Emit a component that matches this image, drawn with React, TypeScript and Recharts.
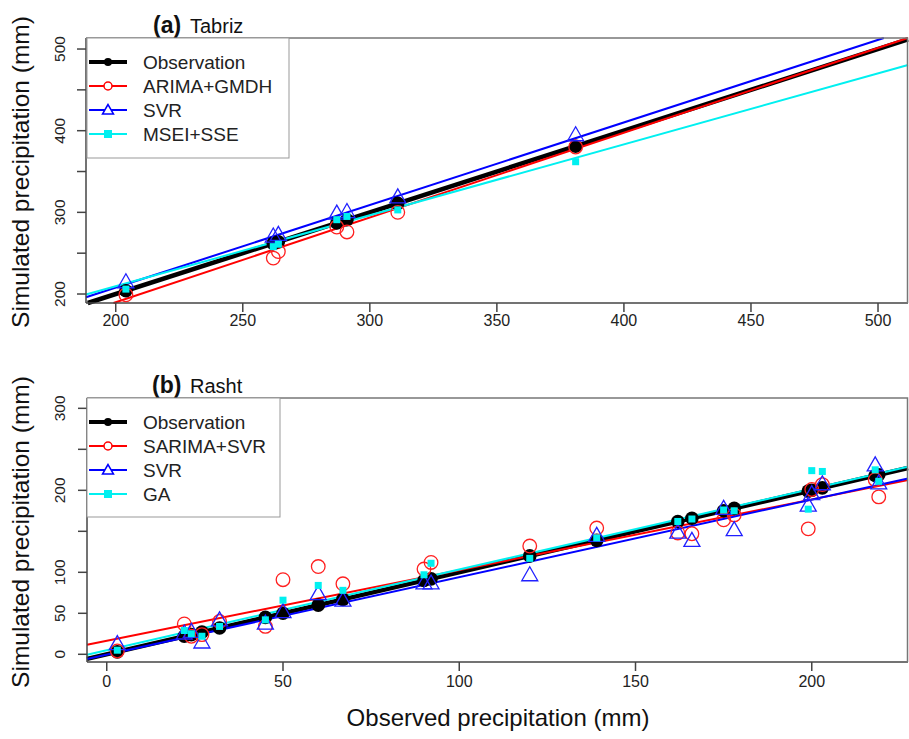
import React from "react";
import { ComposedChart, Scatter, XAxis, YAxis, ReferenceLine } from "recharts";

// ---- panel (a) Tabriz ----
const obsA = [204, 262, 264, 287, 291, 311, 381];
const arimaGmdhA = [199, 244, 252, 282, 276, 300, 380];
const svrA = [215, 271, 273, 299, 301, 319, 395];
const mseiSseA = [206, 258, 261, 291, 295, 303, 362];
// fitted lines: Observation, ARIMA+GMDH, SVR, MSEI+SSE
const slopeA = [1, 1.038, 1.011, 0.869];
const interceptA = [0, -17.7, 5.7, 35.7];
const xTicksA = [200, 250, 300, 350, 400, 450, 500];
const yTicksA = [200, 250, 300, 350, 400, 450, 500];
const yLabelsA = [200, 300, 400, 500];

// ---- panel (b) Rasht ----
const obsB = [3, 22, 24, 27, 32, 45, 50, 60, 67, 90, 92, 120, 139, 162, 166, 175, 178, 199, 200, 203, 218, 219];
const sarimaSvrB = [4, 37, 22, 24, 40, 34, 91, 107, 86, 104, 112, 132, 154, 148, 147, 164, 170, 153, 201, 207, 213, 192];
const svrB = [13, 26, 28, 15, 42, 38, 52, 74, 66, 87, 87, 97, 145, 149, 139, 178, 152, 182, 196, 208, 231, 209];
const gaB = [5, 29, 25, 22, 34, 42, 66, 84, 78, 97, 111, 117, 142, 162, 165, 176, 175, 177, 224, 223, 225, 211];
const slopeB = [1, 0.862, 0.946, 0.985];
const interceptB = [0, 16.5, -0.5, 4.9];
const xTicksB = [0, 50, 100, 150, 200];
const yTicksB = [0, 50, 100, 150, 200, 250, 300];
const yLabelsB = [0, 50, 100, 200, 300];

const namesA = ["Observation", "ARIMA+GMDH", "SVR", "MSEI+SSE"];
const namesB = ["Observation", "SARIMA+SVR", "SVR", "GA"];
const colors = ["#000000", "#FF0000", "#0000FF", "#00F0F0"];

const FONT = "'Liberation Sans', Arial, sans-serif";

const pts = (xs: number[], ys: number[]) => xs.map((x, i) => ({ x, y: ys[i] }));

function segment(a: number, b: number, xd: number[], yd: number[]) {
  const xs = Math.max(xd[0], (yd[0] - a) / b);
  const xe = Math.min(xd[1], (yd[1] - a) / b);
  return [
    { x: xs, y: a + b * xs },
    { x: xe, y: a + b * xe },
  ];
}

const Dot = (p: any) => <circle cx={p.cx} cy={p.cy} r={6.8} fill="#000" />;
const Ring = (p: any) => (
  <circle cx={p.cx} cy={p.cy} r={6.8} fill="none" stroke="#FF2020" strokeWidth={1.3} />
);
const Tri = (p: any) => (
  <polygon
    points={`${p.cx},${p.cy - 8} ${p.cx - 8},${p.cy + 6} ${p.cx + 8},${p.cy + 6}`}
    fill="none"
    stroke="#2020FF"
    strokeWidth={1.3}
  />
);
const Sq = (p: any) => (
  <rect x={p.cx - 3.5} y={p.cy - 3.5} width={7} height={7} fill="#00F0F0" />
);

function makeTick(labels: number[]) {
  return (p: any) => {
    const v = p.payload.value;
    if (!labels.includes(v)) return <g />;
    return (
      <text
        x={65}
        y={p.y}
        transform={`rotate(-90 65 ${p.y})`}
        textAnchor="middle"
        fontSize={15.5}
        fontFamily={FONT}
        fill="#222"
      >
        {v}
      </text>
    );
  };
}

function Panel(props: {
  top: number;
  height: number;
  mTop: number;
  yw: number;
  xh: number;
  tm: number;
  xd: number[];
  yd: number[];
  xTicks: number[];
  yTicks: number[];
  yLabels: number[];
  obs: number[];
  s1: number[];
  s2: number[];
  s3: number[];
  slope: number[];
  intercept: number[];
}) {
  const { xd, yd } = props;
  return (
    <div style={{ position: "absolute", left: 0, top: props.top }}>
      <ComposedChart
        width={909}
        height={props.height}
        margin={{ top: props.mTop, right: 1, left: 0, bottom: 0 }}
      >
        <XAxis
          type="number"
          dataKey="x"
          domain={xd}
          ticks={props.xTicks}
          allowDataOverflow
          height={props.xh}
          tickSize={9}
          tickMargin={props.tm}
          stroke="#444"
          strokeWidth={1.5}
          tick={{ fontSize: 16, fontFamily: FONT, fill: "#222" }}
        />
        <YAxis
          type="number"
          dataKey="y"
          domain={yd}
          ticks={props.yTicks}
          allowDataOverflow
          width={props.yw}
          tickSize={9}
          stroke="#444"
          strokeWidth={1.5}
          tick={makeTick(props.yLabels)}
        />
        {props.slope.map((b, i) => (
          <ReferenceLine
            key={i}
            segment={segment(props.intercept[i], b, xd, yd)}
            stroke={colors[i]}
            strokeWidth={i === 0 ? 4.5 : 2}
            ifOverflow="visible"
          />
        ))}
        <Scatter data={pts(props.obs, props.obs)} shape={Dot} isAnimationActive={false} />
        <Scatter data={pts(props.obs, props.s1)} shape={Ring} isAnimationActive={false} />
        <Scatter data={pts(props.obs, props.s2)} shape={Tri} isAnimationActive={false} />
        <Scatter data={pts(props.obs, props.s3)} shape={Sq} isAnimationActive={false} />
      </ComposedChart>
    </div>
  );
}

function LegendBox({ x, y, w, h, names }: { x: number; y: number; w: number; h: number; names: string[] }) {
  return (
    <g>
      <rect x={x} y={y} width={w} height={h} fill="#fff" stroke="#999" strokeWidth={1} />
      {names.map((n, i) => {
        const cy = y + 24 + i * 24;
        return (
          <g key={n}>
            <line x1={x + 2} x2={x + 40} y1={cy} y2={cy} stroke={colors[i]} strokeWidth={i === 0 ? 4 : 2} />
            {i === 0 && <circle cx={x + 21} cy={cy} r={4} fill="#000" />}
            {i === 1 && <circle cx={x + 21} cy={cy} r={4} fill="#fff" stroke="#FF0000" strokeWidth={1.5} />}
            {i === 2 && (
              <polygon
                points={`${x + 21},${cy - 5.5} ${x + 15.5},${cy + 4} ${x + 26.5},${cy + 4}`}
                fill="#fff"
                stroke="#0000FF"
                strokeWidth={1.5}
              />
            )}
            {i === 3 && <rect x={x + 17} y={cy - 4} width={8} height={8} fill="#00F0F0" />}
            <text x={x + 56} y={cy + 7} fontSize={19} fontFamily={FONT} fill="#222">
              {n}
            </text>
          </g>
        );
      })}
    </g>
  );
}

// frame of the plot box (top and right sides)
function Frame({ x0, x1, y0, y1 }: { x0: number; x1: number; y0: number; y1: number }) {
  return (
    <path d={`M${x0},${y0} H${x1} V${y1}`} fill="none" stroke="#777" strokeWidth={1.5} />
  );
}

export default function App() {
  return (
    <div style={{ position: "absolute", left: 0, top: 0, width: 909, height: 739, background: "#fff" }}>
      <Panel
        top={0}
        height={340}
        mTop={38}
        yw={86}
        xh={37}
        tm={3}
        xd={[188.3, 511.8]}
        yd={[189, 513.5]}
        xTicks={xTicksA}
        yTicks={yTicksA}
        yLabels={yLabelsA}
        obs={obsA}
        s1={arimaGmdhA}
        s2={svrA}
        s3={mseiSseA}
        slope={slopeA}
        intercept={interceptA}
      />
      <Panel
        top={340}
        height={399}
        mTop={58}
        yw={87}
        xh={77}
        tm={5}
        xd={[-5.6, 227.3]}
        yd={[-9.4, 312.6]}
        xTicks={xTicksB}
        yTicks={yTicksB}
        yLabels={yLabelsB}
        obs={obsB}
        s1={sarimaSvrB}
        s2={svrB}
        s3={gaB}
        slope={slopeB}
        intercept={interceptB}
      />
      <svg width={909} height={739} style={{ position: "absolute", left: 0, top: 0, pointerEvents: "none" }}>
        <Frame x0={86} x1={907.5} y0={38} y1={303} />
        <Frame x0={87} x1={907.5} y0={398} y1={662} />
        <text x={153} y={33} fontSize={23} fontWeight="bold" fontFamily={FONT} fill="#111">(a)</text>
        <text x={190} y={33} fontSize={20} fontFamily={FONT} fill="#111">Tabriz</text>
        <text x={152} y={393} fontSize={23} fontWeight="bold" fontFamily={FONT} fill="#111">(b)</text>
        <text x={190} y={393} fontSize={20} fontFamily={FONT} fill="#111">Rasht</text>
        <LegendBox x={87} y={38} w={202} h={120} names={namesA} />
        <LegendBox x={87} y={398} w={193} h={119} names={namesB} />
        <text x={29} y={172} transform="rotate(-90 29 172)" textAnchor="middle" fontSize={24.5} fontFamily={FONT} fill="#111">
          Simulated precipitation (mm)
        </text>
        <text x={29} y={532} transform="rotate(-90 29 532)" textAnchor="middle" fontSize={24.5} fontFamily={FONT} fill="#111">
          Simulated precipitation (mm)
        </text>
        <text x={498} y={726} textAnchor="middle" fontSize={24} fontFamily={FONT} fill="#111">
          Observed precipitation (mm)
        </text>
      </svg>
    </div>
  );
}
